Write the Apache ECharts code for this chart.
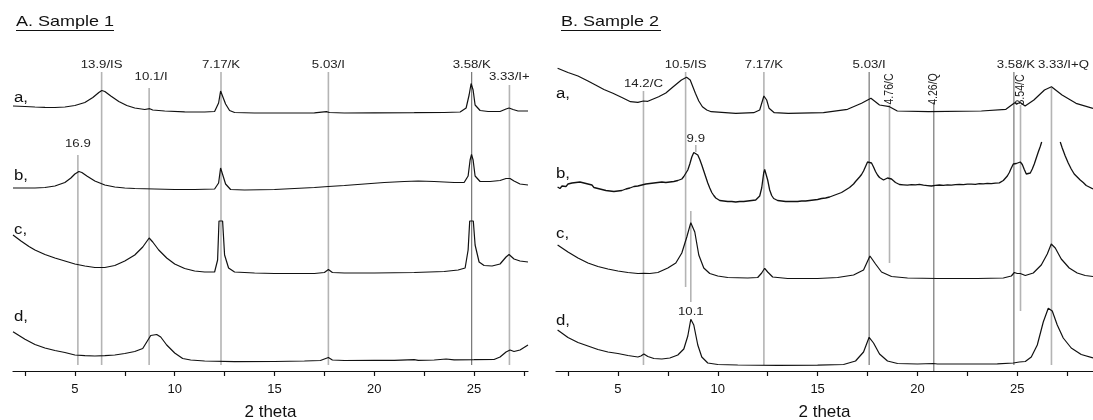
<!DOCTYPE html>
<html><head><meta charset="utf-8">
<script src="https://cdn.jsdelivr.net/npm/echarts@6/dist/echarts.min.js"></script>
<style>html,body{margin:0;padding:0;background:#fff}#c{width:1093px;height:420px}</style>
</head><body><div id="c"></div>
<script>
// ---------- DATA (2 theta, offset intensity in arbitrary units) ----------
const xTicks = [2.5,5,7.5,10,12.5,15,17.5,20,22.5,25,27.5];
const xLabels = [5,10,15,20,25];

const sample1_a = [[1.9,265],[2.5,264.5],[3.0,264],[3.5,263.7],[4.0,263.5],[4.5,264],[5.0,265.5],[5.5,268.5],[5.9,273.5],[6.2,278.5],[6.35,280.5],[6.5,279.5],[6.8,275],[7.2,269.5],[7.6,265.5],[8.0,263],[8.5,261.5],[8.75,262.3],[8.9,261],[9.5,260],[10.5,259.2],[11.5,259],[12.0,259.5],[12.2,268],[12.3,280],[12.4,279],[12.55,267],[12.75,260.5],[13,258.5],[14,258],[15,258],[16,258],[17,258.2],[17.6,259.3],[17.75,258.5],[18.5,258],[20,258.2],[22,258.3],[23.5,258.5],[24.3,259],[24.6,263],[24.75,276],[24.85,287.5],[24.95,281],[25.05,266],[25.3,260.5],[25.7,259.5],[26.3,259.5],[26.6,262],[26.75,263],[26.95,261.5],[27.2,260],[27.7,260]];
const sample1_b = [[1.9,183],[2.5,183],[3.0,183],[3.5,183.5],[4.0,185],[4.5,188.5],[4.8,193],[5.0,197],[5.2,199.5],[5.35,198.5],[5.6,195],[6.0,190],[6.5,186],[7.0,184],[7.5,183],[8,182.5],[9,182],[10,181.5],[11,181.5],[12.0,182],[12.2,188],[12.3,203],[12.4,201],[12.55,187],[12.8,181.5],[13.5,181],[15,181.5],[16,182.5],[17,183.5],[17.7,184.5],[18.5,185.5],[19.5,187],[20.5,188.5],[21.5,189.5],[22.2,190],[23,189.5],[24,188.5],[24.5,188.5],[24.7,195],[24.8,211],[24.87,216.5],[24.95,211],[25.05,195],[25.3,189.5],[25.8,189.5],[26.3,190.5],[26.6,192.5],[26.8,192.5],[27.0,190],[27.3,187],[27.7,186]];
const sample1_c = [[1.9,136],[2.3,130],[2.7,124.5],[3.0,121],[3.5,116.5],[4.0,113],[4.5,110],[5.0,107],[5.5,105],[6.0,103.5],[6.5,103.5],[7.0,105.5],[7.5,110],[8.0,116],[8.4,124],[8.72,133],[8.9,129],[9.2,121],[9.6,113],[10.0,107],[10.5,102.5],[11,100],[11.5,99],[12.0,99],[12.15,111],[12.22,150],[12.4,150],[12.5,116],[12.7,103],[13,99],[14,98],[15,97.5],[16,97.5],[17,97.5],[17.5,98.5],[17.7,101.5],[17.9,98.5],[18.5,98],[20,98],[22,98.5],[23.5,99.5],[24.2,101],[24.55,103],[24.7,121],[24.78,150],[24.96,150],[25.05,126],[25.25,109],[25.5,105.5],[25.9,105],[26.3,107],[26.6,114],[26.75,116.5],[27.0,112],[27.3,110],[27.7,109]];
const sample1_d = [[1.9,39.3],[2.5,31.7],[3.0,26.5],[3.5,23],[4.0,20.5],[4.5,18.5],[5.0,16],[5.5,15.3],[6.0,15],[6.5,15.3],[7.0,16],[7.5,17.5],[8.0,19.5],[8.4,22.5],[8.6,29],[8.8,35.5],[9.1,36.5],[9.3,34],[9.6,26],[10.0,18],[10.4,12.5],[10.8,11],[11.5,10],[13,9.3],[15,9.5],[16.5,10],[17.3,10.5],[17.7,13.5],[17.9,11],[18.5,10.5],[20,10.7],[21,10.7],[22,11.3],[22.2,10.7],[23,11],[23.6,12],[24,11.2],[25,11.3],[26,11.5],[26.3,14],[26.6,19],[26.8,21],[27.0,19.5],[27.3,21],[27.7,26]];

const sample2_a = [[1.98,302.7],[2.5,298.5],[3.0,295],[3.5,290],[3.88,286],[4.3,281.5],[4.75,277.7],[5.2,273.5],[5.63,269.3],[6.0,268.7],[6.28,270],[6.5,269.7],[7.04,274.3],[7.4,278],[7.74,283.7],[8.18,291],[8.44,293.7],[8.62,291],[8.88,277.7],[9.05,270],[9.23,264.3],[9.45,261],[9.67,259.3],[10.9,257.7],[11.8,258.3],[12.1,261],[12.31,275],[12.45,271],[12.57,262.7],[12.83,258.3],[13.53,257.7],[15.29,258.3],[16.5,261.7],[17.2,267.7],[17.67,272.7],[18.1,266],[18.6,264.3],[18.99,260],[20.56,259.3],[23.2,260],[24.43,261.7],[24.87,268.3],[25.0,267.5],[25.16,268.3],[25.39,265],[25.83,271],[26.36,281],[26.71,284.3],[27.24,276],[27.94,267.7],[28.79,262.7]];
const sample2_b = [[1.98,184],[2.1,182.5],[2.2,185],[2.3,185.5],[2.4,184.5],[2.5,187],[2.6,186],[2.7,188],[2.8,186.5],[2.9,188.5],[3.0,187.5],[3.1,189],[3.2,187],[3.3,188],[3.4,186],[3.5,187],[3.6,185],[3.7,186],[3.8,183.5],[3.9,184.5],[4.0,182.5],[4.1,183.5],[4.2,181.5],[4.3,182.5],[4.4,180.5],[4.5,181.5],[4.6,180],[4.7,181],[4.8,179.5],[4.9,181],[5.0,180],[5.1,181.5],[5.2,180.5],[5.3,182.5],[5.4,182],[5.5,184],[5.6,183],[5.7,185],[5.8,184.5],[5.9,186],[6.0,185],[6.1,187],[6.2,186],[6.3,188],[6.4,187],[6.5,188.5],[6.6,187.5],[6.7,189.5],[6.8,188],[6.9,190],[7.0,188.5],[7.1,190.5],[7.2,189],[7.3,190],[7.4,188.5],[7.5,190.5],[7.6,189],[7.7,191],[7.8,189.5],[7.9,191.5],[8.0,190.5],[8.1,192.5],[8.2,192],[8.3,194.5],[8.4,196],[8.5,201],[8.6,207],[8.7,214],[8.8,218.5],[8.85,219.5],[8.9,219],[9.0,216],[9.1,211.5],[9.2,206],[9.3,200],[9.4,194],[9.5,188],[9.6,183],[9.7,178.5],[9.8,175.5],[9.9,173],[10.0,171.5],[10.1,170.5],[10.2,169.5],[10.3,170],[10.4,168.5],[10.5,169.5],[10.6,168.5],[10.7,169.5],[10.8,168],[10.9,169],[11.0,168.5],[11.1,169.5],[11.2,168],[11.3,169.5],[11.4,168.5],[11.5,170],[11.6,169],[11.7,170.5],[11.8,169.5],[11.9,171],[12.0,171.5],[12.1,175],[12.2,183],[12.3,198],[12.35,201.5],[12.4,200],[12.5,191],[12.6,181],[12.7,175.5],[12.8,172.5],[12.9,172],[13.0,170.5],[13.1,171.5],[13.2,170],[13.3,171],[13.4,169.5],[13.5,170.5],[13.6,169.5],[13.7,171],[13.8,169.5],[13.9,170.5],[14.0,169.5],[14.1,171],[14.2,170],[14.3,171.5],[14.4,170],[14.5,171.5],[14.6,170.5],[14.7,172],[14.8,171],[14.9,172.5],[15.0,171.5],[15.1,173],[15.2,172.5],[15.3,174],[15.4,173],[15.5,174.5],[15.6,174],[15.7,176],[15.8,175.5],[15.9,177],[16.0,177],[16.1,178.5],[16.2,178.5],[16.3,180.5],[16.4,181],[16.5,182.5],[16.6,183.5],[16.7,185.5],[16.8,187],[16.9,189.5],[17.0,191],[17.1,194],[17.2,196.5],[17.3,200],[17.4,204.5],[17.5,209],[17.55,210.5],[17.6,209.5],[17.7,208],[17.8,204],[17.9,199.5],[18.0,196],[18.1,193.5],[18.2,192],[18.3,191],[18.4,192],[18.5,193],[18.6,193.5],[18.7,192],[18.8,190],[18.9,188.5],[19.0,187],[19.1,186.5],[19.2,185],[19.3,186.2],[19.4,184.8],[19.5,185.9],[19.6,185.2],[19.7,186.4],[19.8,185],[19.9,186.1],[20.0,185.3],[20.1,186.6],[20.2,185.1],[20.3,185.8],[20.4,186.9],[20.5,185.4],[20.6,186.2],[20.7,185],[20.8,186.4],[20.9,185.7],[21.0,187.2],[21.1,186],[21.2,186.8],[21.3,185.6],[21.4,187.1],[21.5,186.2],[21.6,186.9],[21.7,185.9],[21.8,187.4],[21.9,186.3],[22.0,187.2],[22.1,186.5],[22.2,187.8],[22.3,186.4],[22.4,187.3],[22.5,186.8],[22.6,188.1],[22.7,186.9],[22.8,187.6],[22.9,186.7],[23.0,188.2],[23.1,187.3],[23.2,188],[23.3,187.1],[23.4,188.6],[23.5,187.6],[23.6,188.2],[23.7,187.4],[23.8,188.8],[23.9,187.9],[24.0,188.5],[24.1,188.1],[24.2,189.5],[24.3,190.5],[24.4,192.5],[24.5,195],[24.6,198.5],[24.7,203],[24.8,207],[24.87,208.5],[24.95,207.5],[25.05,206],[25.15,209],[25.25,206.5],[25.35,201.5],[25.45,197],[25.55,195.5],[25.65,198],[25.75,202],[25.85,207],[25.95,213],[26.05,219],[26.15,224.5],[26.22,229],[26.7,'-'],[27.15,229],[27.25,223],[27.4,215],[27.55,208],[27.7,202],[27.85,197],[28.0,194],[28.15,191],[28.3,188.5],[28.45,185.5],[28.6,184],[28.79,182]];
const sample2_c = [[1.98,126],[2.5,119],[3.0,113],[3.5,108],[4.0,104.5],[4.5,102],[5.0,100],[5.5,98.5],[6.0,97.5],[6.3,97.7],[6.6,97.5],[7.0,98.5],[7.5,103],[7.9,108],[8.2,118],[8.45,134],[8.65,148.3],[8.85,139],[9.05,116],[9.3,103],[9.6,97.5],[10,95],[10.5,93.5],[11.5,93],[12.0,93.5],[12.2,98],[12.35,102.7],[12.5,99],[12.75,94],[13.5,92.5],[15,92.5],[16,93.5],[16.8,96],[17.3,101],[17.62,115],[17.9,107],[18.2,99],[18.7,94.5],[19.5,93],[21,92.5],[23,92.5],[24.3,93],[24.7,95],[24.85,98.5],[25.0,97.5],[25.15,97.5],[25.4,95.5],[25.8,98],[26.2,106],[26.5,117],[26.7,127],[26.9,123],[27.2,112],[27.6,103],[28.0,98],[28.4,95.5],[28.79,94.5]];
const sample2_d = [[1.98,41],[2.5,33.5],[3.0,28.5],[3.5,25],[4.0,21.5],[4.5,19],[5.0,17.5],[5.5,15.5],[6.0,14],[6.15,15],[6.3,17],[6.5,14.5],[6.8,12.5],[7.2,12],[7.6,13],[8.0,16],[8.3,22],[8.5,35],[8.65,51.7],[8.8,46],[9.0,26],[9.2,14],[9.5,8],[10,6.5],[11,6],[13,5.7],[15,5.8],[16.3,6.5],[16.9,10],[17.3,19],[17.58,33.7],[17.8,28],[18.1,17],[18.5,10],[19,7.5],[20,7],[20.8,7.5],[21,7],[22,7],[23,7],[24,7.2],[24.8,8],[25.1,9],[25.4,9.5],[25.7,14],[26.0,26],[26.3,49],[26.55,62.7],[26.75,60],[27.0,46],[27.3,33],[27.7,23],[28.2,16.5],[28.79,13]];

// reference lines (2 theta position, top, bottom, label, label height)
const ref1_pos = [5.15, 6.34, 8.72, 12.32, 17.7, 24.88, 26.77];
const ref1_top = [216, 299, 283, 299, 299, 299, 286];
const ref1_bottom = [6, 6, 6, 6, 6, 6, 6];
const ref1_label = ['16.9', '13.9/IS', '10.1/I', '7.17/K', '5.03/I', '3.58/K', '3.33/I+Q'];
const ref1_labelAt = [227, 306, 294, 306, 306, 306, 294];

const ref2_pos = [6.28, 8.39, 8.9, 8.65, 12.31, 17.58, 18.6, 20.82, 24.83, 25.16, 26.71];
const ref2_top = [280, 299, 226, 160, 299, 299, 266, 269, 299, 266, 283];
const ref2_bottom = [6, 84, 219, 69, 6, 6, 108, 0, 6, 60, 6];
const ref2_label = ['14.2/C', '10.5/IS', '9.9', '10.1', '7.17/K', '5.03/I', '4.76/C', '4.26/Q', '3.58/K', '3.54/C', '3.33/I+Q'];
const ref2_labelAt = [287, 306, 232, 59, 306, 306, 282, 282, 306, 281, 306];

// ---------- STYLE / LAYOUT ----------
const FONT = '"Liberation Sans", Arial, Helvetica, sans-serif';
const SX = 1.2;
const refStyle1 = { dark: [5], rot: [], dx: {2: 2, 6: 5} };
const refStyle2 = { dark: [5, 7, 8], rot: [6, 7, 9], dx: {8: 2, 10: 12} };

function refSeries(idx, pos, top, bottom, labels, labelAt, st) {
  const data = pos.map((p, i) => [p, top[i], bottom[i], i, labelAt[i]]);
  return {
    type: 'custom', xAxisIndex: idx, yAxisIndex: idx, z: 1, silent: true, animation: false,
    data: data, encode: { x: 0, y: [1, 2] },
    renderItem: function (params, api) {
      const i = api.value(3);
      const x = api.value(0);
      const p1 = api.coord([x, api.value(1)]);
      const p2 = api.coord([x, api.value(2)]);
      const lp = api.coord([x, api.value(4)]);
      const dark = st.dark.indexOf(i) >= 0;
      const rot = st.rot.indexOf(i) >= 0;
      const dx = st.dx[i] || 0;
      return {
        type: 'group',
        children: [
          { type: 'line', shape: { x1: p1[0], y1: p1[1], x2: p2[0], y2: p2[1] },
            style: { stroke: dark ? '#5a5a5a' : '#b4b4b4', lineWidth: dark ? 1 : 1.6 } },
          { type: 'text', x: lp[0] + dx, y: lp[1], rotation: rot ? Math.PI / 2 : 0,
            scaleX: rot ? 1 : SX, scaleY: rot ? SX : 1,
            style: { text: labels[i], fill: '#222', fontSize: rot ? 10.5 : 11, fontFamily: FONT,
                     align: 'center', verticalAlign: 'middle' } }
        ]
      };
    }
  };
}

function trace(idx, data, w) {
  return { type: 'line', xAxisIndex: idx, yAxisIndex: idx, data: data, showSymbol: false, symbol: 'none',
           connectNulls: false, z: 3, silent: true, animation: false,
           lineStyle: { color: '#111', width: w || 1.2 } };
}

function xAxis(idx, min, max) {
  return {
    type: 'value', gridIndex: idx, min: min, max: max,
    name: '2 theta', nameLocation: 'middle', nameGap: 33,
    nameTextStyle: { fontSize: 17, fontFamily: FONT, color: '#111' },
    axisLine: { show: true, onZero: false, lineStyle: { color: '#111', width: 1.2 } },
    axisTick: { show: true, length: 5, customValues: xTicks, lineStyle: { color: '#111', width: 1.2 } },
    axisLabel: { customValues: xLabels, fontSize: 13, fontFamily: FONT, color: '#111', margin: 12 },
    splitLine: { show: false }
  };
}

function letter(x, y, t) {
  return { type: 'text', x: x, y: y, scaleX: SX, style: { text: t, fontSize: 14, fontFamily: FONT, fill: '#111', verticalAlign: 'middle' } };
}

const option = {
  backgroundColor: '#fff',
  animation: false,
  grid: [
    { left: 13, right: 565, top: 41, bottom: 49, containLabel: false, outerBoundsMode: 'none' },
    { left: 556, right: 0, top: 41, bottom: 49, containLabel: false, outerBoundsMode: 'none' }
  ],
  xAxis: [xAxis(0, 1.9, 27.7), xAxis(1, 1.9, 28.79)],
  yAxis: [
    { type: 'value', gridIndex: 0, min: 0, max: 330, show: false },
    { type: 'value', gridIndex: 1, min: 0, max: 330, show: false }
  ],
  series: [
    refSeries(0, ref1_pos, ref1_top, ref1_bottom, ref1_label, ref1_labelAt, refStyle1),
    trace(0, sample1_a), trace(0, sample1_b), trace(0, sample1_c), trace(0, sample1_d),
    refSeries(1, ref2_pos, ref2_top, ref2_bottom, ref2_label, ref2_labelAt, refStyle2),
    trace(1, sample2_a), trace(1, sample2_b, 1.3), trace(1, sample2_c), trace(1, sample2_d)
  ],
  graphic: [
    { type: 'text', x: 16, y: 22, scaleX: SX, style: { text: 'A. Sample 1', fontSize: 15, fontFamily: FONT, fill: '#111', verticalAlign: 'middle' } },
    { type: 'line', shape: { x1: 16, y1: 30.5, x2: 114, y2: 30.5 }, style: { stroke: '#111', lineWidth: 1 } },
    { type: 'text', x: 561, y: 22, scaleX: SX, style: { text: 'B. Sample 2', fontSize: 15, fontFamily: FONT, fill: '#111', verticalAlign: 'middle' } },
    { type: 'line', shape: { x1: 561, y1: 30.5, x2: 661, y2: 30.5 }, style: { stroke: '#111', lineWidth: 1 } },
    letter(14, 98, 'a,'), letter(14, 176, 'b,'), letter(14, 230, 'c,'), letter(14, 317, 'd,'),
    letter(556, 94, 'a,'), letter(556, 174, 'b,'), letter(556, 234, 'c,'), letter(556, 321, 'd,'),
    { type: 'rect', z: 100, shape: { x: 529, y: 62, width: 20, height: 30 }, style: { fill: '#fff' } }
  ]
};

const chart = echarts.init(document.getElementById('c'), null, { renderer: 'canvas' });
chart.setOption(option);
</script></body></html>
